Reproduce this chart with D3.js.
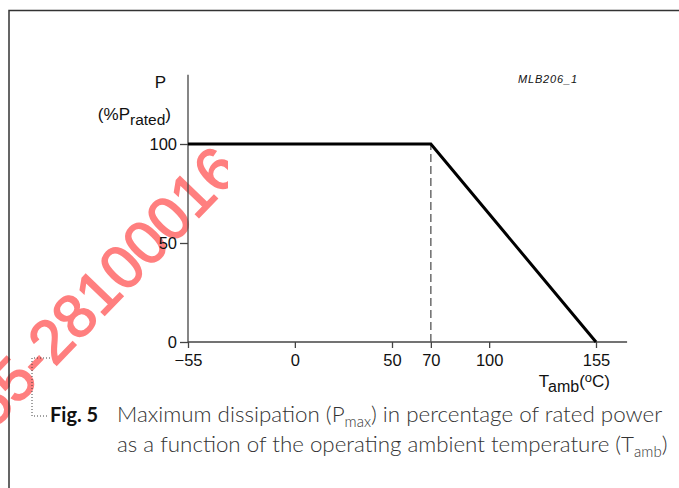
<!DOCTYPE html>
<html>
<head>
<meta charset="utf-8">
<title>Power derating</title>
<script src="https://d3js.org/d3.v7.min.js"></script>
<style>
    body { margin: 0; background: #fff; }
    .axis text { font-family: "Liberation Sans", Arial, sans-serif; font-size: 16.5px; fill: #111; }
    .axis line { stroke: #444; stroke-width: 1.3; }
    .axisline { stroke: #444; stroke-width: 1.3; }
    .lbl { font-family: "Liberation Sans", Arial, sans-serif; font-size: 17px; fill: #111; }
    .curve { fill: none; stroke: #000; stroke-width: 3; stroke-linejoin: miter; }
    .knee { stroke: #555; stroke-width: 1.3; stroke-dasharray: 8 4; }
    .cap { font-family: Lato, "Open Sans", sans-serif; font-weight: 300; font-size: 20.5px; fill: #333; }
    .fig { font-family: Lato, "Open Sans", sans-serif; font-weight: 700; font-size: 20px; fill: #111; }
    .wm { font-family: "Liberation Sans", Arial, sans-serif; font-size: 61px; fill: #ff7f7f; stroke: #ff7f7f; stroke-width: 1.6; }
</style>
</head>
<body>
<script>
    // derating curve
    var temps = [-55, 70, 155];
    var power = [100, 100, 0];
    var kneeTemp = 70;

    var xTicks = [-55, 0, 50, 70, 100, 155];
    var yTicks = [0, 50, 100];

    var xMax = 171, yMax = 135;

    var svg = d3.select('body').append('svg')
        .attr('width', 679)
        .attr('height', 488);

    var x = d3.scaleLinear().domain([-55, 155]).range([188, 596]);
    var y = d3.scaleLinear().domain([0, 100]).range([342, 144]);

    // watermark stamped on the scan, under the drawing
    svg.append('clipPath').attr('id', 'wmclip')
        .append('rect').attr('x', 0).attr('y', 0).attr('width', 228).attr('height', 488);
    svg.append('g')
        .attr('clip-path', 'url(#wmclip)')
        .append('text')
        .attr('class', 'wm')
        .attr('text-anchor', 'end')
        .attr('transform', 'translate(243,172) rotate(-46)')
        .text('0755-28100016');

    // frame
    svg.append('path')
        .attr('d', 'M9,488V10.5H679')
        .attr('fill', 'none')
        .attr('stroke', '#333')
        .attr('stroke-width', 1.5);

    // axes
    svg.append('g')
        .attr('class', 'axis')
        .attr('transform', `translate(0,${y(0)})`)
        .call(d3.axisBottom(x).tickValues(xTicks).tickSize(6).tickPadding(6).tickFormat(d3.format('d')))
        .call(g => g.select('.domain').remove());

    svg.append('g')
        .attr('class', 'axis')
        .attr('transform', `translate(${x(-55)},0)`)
        .call(d3.axisLeft(y).tickValues(yTicks).tickSize(8).tickPadding(3))
        .call(g => g.select('.domain').remove());

    svg.append('line').attr('class', 'axisline')
        .attr('x1', x(-55)).attr('x2', x(xMax))
        .attr('y1', y(0)).attr('y2', y(0));
    svg.append('line').attr('class', 'axisline')
        .attr('x1', x(-55)).attr('x2', x(-55))
        .attr('y1', y(0)).attr('y2', y(yMax));

    // knee marker
    svg.append('line').attr('class', 'knee')
        .attr('x1', x(kneeTemp)).attr('x2', x(kneeTemp))
        .attr('y1', y(0)).attr('y2', y(100));

    var line = d3.line()
        .x(function (d) { return x(d[0]); })
        .y(function (d) { return y(d[1]); });

    svg.append('path')
        .datum(d3.zip(temps, power))
        .attr('class', 'curve')
        .attr('d', line);

    // axis titles
    svg.append('text').attr('class', 'lbl')
        .attr('x', 160.5).attr('y', 88).attr('text-anchor', 'middle')
        .text('P');

    var pr = svg.append('text').attr('class', 'lbl')
        .attr('x', 171).attr('y', 120).attr('text-anchor', 'end');
    pr.append('tspan').text('(%P');
    pr.append('tspan').attr('dy', 5).attr('font-size', '15.5px').text('rated');
    pr.append('tspan').attr('dy', -5).text(')');

    var ta = svg.append('text').attr('class', 'lbl')
        .attr('x', 610).attr('y', 387).attr('text-anchor', 'end');
    ta.append('tspan').text('T');
    ta.append('tspan').attr('dy', 5).attr('dx', -1).attr('font-size', '16px').text('amb');
    ta.append('tspan').attr('dy', -5).text('(');
    ta.append('tspan').attr('dy', -5).attr('font-size', '13px').text('o');
    ta.append('tspan').attr('dy', 5).text('C)');

    svg.append('text')
        .attr('x', 518).attr('y', 83)
        .attr('font-family', '"Liberation Sans", Arial, sans-serif')
        .attr('font-style', 'italic')
        .attr('font-size', '11px')
        .attr('textLength', 59)
        .attr('fill', '#111')
        .text('MLB206_1');

    // caption
    svg.append('path')
        .attr('d', 'M50,358H32V416H48')
        .attr('fill', 'none')
        .attr('stroke', '#444')
        .attr('stroke-width', 1)
        .attr('stroke-dasharray', '1 2');

    svg.append('text').attr('class', 'fig')
        .attr('x', 50).attr('y', 422)
        .text('Fig. 5');

    var c1 = svg.append('text').attr('class', 'cap')
        .attr('x', 117).attr('y', 422);
    c1.append('tspan').text('Maximum dissipation (P');
    c1.append('tspan').attr('dy', 5).attr('font-size', '15px').text('max');
    c1.append('tspan').attr('dy', -5).text(') in percentage of rated power');

    var c2 = svg.append('text').attr('class', 'cap')
        .attr('x', 117).attr('y', 452);
    c2.append('tspan').text('as a function of the operating ambient temperature (T');
    c2.append('tspan').attr('dy', 5).attr('font-size', '15px').text('amb');
    c2.append('tspan').attr('dy', -5).text(')');

    // stretch caption lines to the printed width
    [[c1, 665], [c2, 670]].forEach(function (p) {
        var w = p[0].node().getComputedTextLength();
        var fs = 20.5 * (p[1] - 117) / w;
        p[0].style('font-size', fs + 'px');
    });
</script>
</body>
</html>
